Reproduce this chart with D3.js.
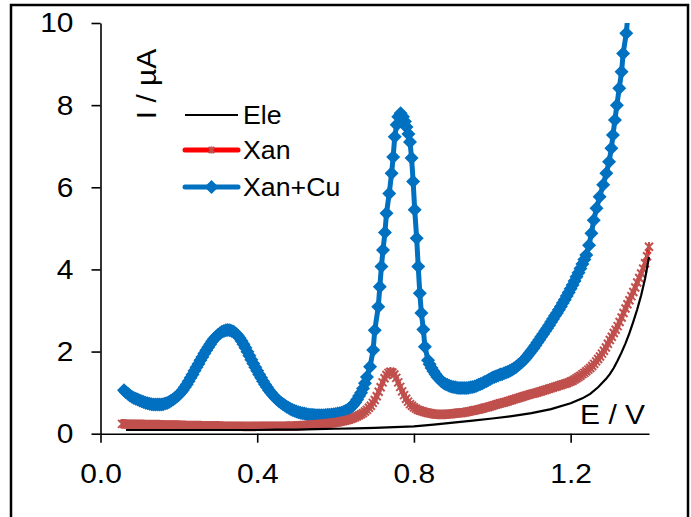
<!DOCTYPE html>
<html><head><meta charset="utf-8">
<script src="https://cdn.jsdelivr.net/npm/d3@7"></script>
<style>html,body{margin:0;padding:0;background:#fff;}</style>
</head><body>
<script>
// ---- data : [E (V), I (µA)] ----
const xTicks = [0.0, 0.4, 0.8, 1.2];
const yTicks = [0, 2, 4, 6, 8, 10];
const seriesNames = ["Ele", "Xan", "Xan+Cu"];

const eleData = [[0.065,0.09],[0.10,0.09],[0.15,0.09],[0.20,0.09],[0.25,0.09],[0.30,0.09],[0.35,0.09],[0.40,0.09],[0.45,0.10],[0.50,0.10],
[0.55,0.11],[0.60,0.12],[0.65,0.13],[0.70,0.14],[0.75,0.16],[0.80,0.18],[0.85,0.22],[0.90,0.27],[0.95,0.32],[1.00,0.37],
[1.05,0.43],[1.10,0.50],[1.15,0.60],[1.20,0.74],[1.23,0.86],[1.25,0.97],[1.27,1.13],[1.29,1.33],[1.30,1.45],[1.31,1.60],
[1.32,1.78],[1.33,1.98],[1.34,2.20],[1.35,2.45],[1.36,2.73],[1.37,3.03],[1.38,3.37],[1.39,3.78],[1.40,4.30]];

const xanData = [[0.055,0.24],[0.06,0.24],[0.065,0.235],[0.07,0.23],[0.075,0.23],[0.08,0.23],[0.085,0.23],[0.09,0.23],[0.095,0.23],[0.10,0.23],
[0.105,0.228],[0.11,0.226],[0.115,0.224],[0.12,0.222],[0.125,0.22],[0.13,0.22],[0.135,0.22],[0.14,0.22],[0.145,0.22],[0.15,0.22],
[0.155,0.217],[0.16,0.214],[0.165,0.212],[0.17,0.21],[0.175,0.21],[0.18,0.21],[0.185,0.21],[0.19,0.21],[0.195,0.21],[0.20,0.21],
[0.205,0.207],[0.21,0.204],[0.215,0.202],[0.22,0.20],[0.225,0.20],[0.23,0.20],[0.235,0.20],[0.24,0.20],[0.245,0.20],[0.25,0.20],
[0.255,0.197],[0.26,0.195],[0.265,0.193],[0.27,0.19],[0.275,0.19],[0.28,0.19],[0.285,0.19],[0.29,0.19],[0.295,0.19],[0.30,0.19],
[0.305,0.187],[0.31,0.185],[0.315,0.183],[0.32,0.18],[0.325,0.18],[0.33,0.18],[0.335,0.18],[0.34,0.18],[0.345,0.18],[0.35,0.18],
[0.355,0.18],[0.36,0.18],[0.365,0.178],[0.37,0.178],[0.375,0.178],[0.38,0.178],[0.385,0.178],[0.39,0.178],[0.395,0.178],[0.40,0.18],
[0.405,0.18],[0.41,0.18],[0.415,0.18],[0.42,0.18],[0.425,0.18],[0.43,0.18],[0.435,0.18],[0.44,0.18],[0.445,0.18],[0.45,0.18],
[0.455,0.18],[0.46,0.181],[0.465,0.182],[0.47,0.183],[0.475,0.184],[0.48,0.185],[0.485,0.187],[0.49,0.189],[0.495,0.19],[0.50,0.19],
[0.505,0.195],[0.51,0.20],[0.515,0.20],[0.52,0.20],[0.525,0.205],[0.53,0.21],[0.535,0.21],[0.54,0.21],[0.545,0.215],[0.55,0.22],
[0.555,0.225],[0.56,0.23],[0.565,0.235],[0.57,0.24],[0.575,0.245],[0.58,0.25],[0.585,0.255],[0.59,0.26],[0.595,0.265],[0.60,0.27],
[0.605,0.28],[0.61,0.29],[0.615,0.30],[0.62,0.31],[0.625,0.32],[0.63,0.33],[0.635,0.345],[0.64,0.36],[0.645,0.38],[0.65,0.40],
[0.655,0.425],[0.66,0.45],[0.665,0.475],[0.67,0.50],[0.675,0.54],[0.68,0.58],[0.685,0.63],[0.69,0.68],[0.695,0.75],[0.70,0.82],
[0.705,0.91],[0.71,1.02],[0.715,1.13],[0.72,1.25],[0.725,1.35],[0.73,1.43],[0.735,1.48],[0.74,1.51],[0.745,1.49],[0.75,1.44],
[0.755,1.36],[0.76,1.25],[0.765,1.14],[0.77,1.03],[0.775,0.94],[0.78,0.85],[0.785,0.78],[0.79,0.72],[0.795,0.68],[0.80,0.64],
[0.805,0.61],[0.81,0.58],[0.815,0.565],[0.82,0.55],[0.825,0.535],[0.83,0.52],[0.835,0.51],[0.84,0.50],[0.845,0.49],[0.85,0.48],
[0.855,0.475],[0.86,0.47],[0.865,0.47],[0.87,0.47],[0.875,0.47],[0.88,0.47],[0.885,0.475],[0.89,0.48],[0.895,0.485],[0.90,0.49],
[0.905,0.495],[0.91,0.50],[0.915,0.505],[0.92,0.51],[0.925,0.515],[0.93,0.52],[0.935,0.53],[0.94,0.54],[0.945,0.55],[0.95,0.56],
[0.955,0.57],[0.96,0.58],[0.965,0.59],[0.97,0.60],[0.975,0.615],[0.98,0.63],[0.985,0.64],[0.99,0.65],[0.995,0.665],[1.00,0.68],
[1.005,0.695],[1.01,0.71],[1.015,0.725],[1.02,0.74],[1.025,0.75],[1.03,0.76],[1.035,0.775],[1.04,0.79],[1.045,0.805],[1.05,0.82],
[1.055,0.835],[1.06,0.85],[1.065,0.865],[1.07,0.88],[1.075,0.895],[1.08,0.91],[1.085,0.925],[1.09,0.94],[1.095,0.955],[1.10,0.97],
[1.105,0.98],[1.11,0.99],[1.115,1.005],[1.12,1.02],[1.125,1.035],[1.13,1.05],[1.135,1.065],[1.14,1.08],[1.145,1.095],[1.15,1.11],
[1.155,1.125],[1.16,1.14],[1.165,1.155],[1.17,1.17],[1.175,1.185],[1.18,1.20],[1.185,1.215],[1.19,1.23],[1.195,1.25],[1.20,1.27],
[1.205,1.29],[1.21,1.32],[1.215,1.35],[1.22,1.38],[1.225,1.41],[1.23,1.45],[1.235,1.48],[1.24,1.52],[1.245,1.56],[1.25,1.60],
[1.255,1.65],[1.26,1.70],[1.265,1.76],[1.27,1.82],[1.275,1.88],[1.28,1.95],[1.285,2.02],[1.29,2.10],[1.295,2.19],[1.30,2.28],
[1.305,2.36],[1.31,2.45],[1.315,2.53],[1.32,2.62],[1.325,2.72],[1.33,2.83],[1.335,2.94],[1.34,3.05],[1.345,3.15],[1.35,3.25],
[1.355,3.35],[1.36,3.45],[1.365,3.56],[1.37,3.68],[1.375,3.79],[1.38,3.90],[1.385,4.02],[1.39,4.15],[1.395,4.32],[1.40,4.55]];

const cuData = [[0.06,1.06],[0.065,1.01],[0.07,0.97],[0.075,0.93],[0.08,0.90],[0.085,0.87],[0.09,0.85],[0.095,0.83],[0.10,0.81],[0.105,0.79],
[0.11,0.77],[0.115,0.755],[0.12,0.74],[0.125,0.73],[0.13,0.72],[0.135,0.714],[0.14,0.71],[0.145,0.708],[0.15,0.71],[0.155,0.714],
[0.16,0.72],[0.165,0.733],[0.17,0.75],[0.175,0.772],[0.18,0.80],[0.185,0.833],[0.19,0.87],[0.195,0.908],[0.20,0.95],[0.205,1.002],
[0.21,1.06],[0.215,1.128],[0.22,1.20],[0.225,1.278],[0.23,1.36],[0.235,1.444],[0.24,1.53],[0.245,1.615],[0.25,1.70],[0.255,1.786],
[0.26,1.87],[0.265,1.952],[0.27,2.03],[0.275,2.107],[0.28,2.18],[0.285,2.248],[0.29,2.31],[0.295,2.363],[0.30,2.41],[0.305,2.448],
[0.31,2.48],[0.315,2.503],[0.32,2.52],[0.325,2.526],[0.33,2.52],[0.335,2.503],[0.34,2.48],[0.345,2.438],[0.35,2.39],[0.355,2.328],
[0.36,2.26],[0.365,2.178],[0.37,2.09],[0.375,1.997],[0.38,1.90],[0.385,1.803],[0.39,1.71],[0.395,1.618],[0.40,1.53],[0.405,1.443],
[0.41,1.36],[0.415,1.278],[0.42,1.20],[0.425,1.128],[0.43,1.06],[0.435,0.998],[0.44,0.94],[0.445,0.888],[0.45,0.84],[0.455,0.798],
[0.46,0.76],[0.465,0.723],[0.47,0.69],[0.475,0.658],[0.48,0.63],[0.485,0.604],[0.49,0.58],[0.495,0.558],[0.50,0.54],[0.505,0.524],
[0.51,0.51],[0.515,0.498],[0.52,0.49],[0.525,0.479],[0.53,0.47],[0.535,0.464],[0.54,0.46],[0.545,0.454],[0.55,0.45],[0.555,0.449],
[0.56,0.45],[0.565,0.449],[0.57,0.45],[0.575,0.454],[0.58,0.46],[0.585,0.464],[0.59,0.47],[0.595,0.474],[0.60,0.48],[0.605,0.489],
[0.61,0.50],[0.615,0.513],[0.62,0.53],[0.625,0.552],[0.63,0.58],[0.635,0.612],[0.64,0.65],[0.645,0.70],[0.65,0.76],[0.655,0.833],
[0.66,0.92],[0.665,1.00],[0.67,1.10],[0.675,1.23],[0.68,1.38],[0.688,1.63],[0.696,2.04],[0.700,2.52],[0.709,3.09],[0.713,3.58],
[0.717,4.07],[0.721,4.47],[0.726,4.90],[0.730,5.37],[0.737,5.85],[0.743,6.34],[0.747,6.74],[0.751,7.23],[0.756,7.52],[0.760,7.72],
[0.766,7.80],[0.772,7.72],[0.777,7.60],[0.781,7.47],[0.786,7.30],[0.790,7.10],[0.794,6.71],[0.798,6.14],[0.802,5.45],[0.807,4.76],
[0.811,4.07],[0.815,3.42],[0.819,2.94],[0.824,2.54],[0.828,2.12],[0.836,1.79],[0.84,1.69],[0.845,1.60],[0.85,1.52],[0.855,1.45],
[0.86,1.38],[0.865,1.33],[0.87,1.28],[0.875,1.24],[0.88,1.21],[0.885,1.19],[0.89,1.17],[0.895,1.15],[0.90,1.14],[0.905,1.13],
[0.91,1.12],[0.915,1.11],[0.92,1.11],[0.925,1.11],[0.93,1.11],[0.935,1.11],[0.94,1.12],[0.945,1.13],[0.95,1.14],[0.955,1.15],
[0.96,1.17],[0.965,1.19],[0.97,1.21],[0.975,1.23],[0.98,1.26],[0.985,1.28],[0.99,1.31],[0.995,1.33],[1.00,1.36],[1.005,1.38],
[1.01,1.40],[1.015,1.42],[1.02,1.44],[1.025,1.45],[1.03,1.47],[1.035,1.49],[1.04,1.51],[1.045,1.53],[1.05,1.56],[1.055,1.59],
[1.06,1.62],[1.065,1.66],[1.07,1.70],[1.075,1.74],[1.08,1.79],[1.085,1.84],[1.09,1.90],[1.095,1.96],[1.10,2.02],[1.105,2.08],
[1.11,2.15],[1.115,2.22],[1.12,2.29],[1.125,2.36],[1.13,2.43],[1.135,2.50],[1.14,2.57],[1.145,2.64],[1.15,2.72],[1.155,2.79],
[1.16,2.87],[1.165,2.94],[1.17,3.02],[1.175,3.10],[1.18,3.18],[1.185,3.26],[1.19,3.35],[1.195,3.44],[1.20,3.53],[1.205,3.62],
[1.21,3.72],[1.215,3.82],[1.22,3.92],[1.225,4.02],[1.23,4.13],[1.235,4.24],[1.24,4.35],[1.247,4.59],[1.253,4.88],[1.259,5.20],
[1.266,5.49],[1.274,5.77],[1.283,6.06],[1.291,6.34],[1.298,6.62],[1.304,6.95],[1.308,7.27],[1.313,7.64],[1.318,8.00],[1.324,8.41],
[1.330,8.81],[1.334,9.26],[1.342,9.75],[1.348,10.40]];

// ---- layout ----
const W = 691, H = 517;
const FONT = "'Liberation Sans', Arial, Helvetica, sans-serif";
const SX = 1.07; // slight horizontal stretch of the reference text
const svg = d3.select("body").append("svg").attr("width", W).attr("height", H)
  .style("display","block").style("background","#fff");

svg.append("rect").attr("x",11).attr("y",5).attr("width",677).attr("height",530)
  .attr("fill","none").attr("stroke","#000").attr("stroke-width",2.5);

const x = d3.scaleLinear().domain([0, 1.4]).range([100.5, 649]);
const y = d3.scaleLinear().domain([0, 10]).range([433.7, 23]);

svg.append("clipPath").attr("id","clip").append("rect")
  .attr("x", 90).attr("y", 23).attr("width", 600).attr("height", 430);

const plot = svg.append("g").attr("clip-path","url(#clip)");
const line = d3.line().x(d => x(d[0])).y(d => y(d[1]));
const diamond = (cx, cy, r) => `M${cx},${cy-r}L${cx+r},${cy}L${cx},${cy+r}L${cx-r},${cy}Z`;
const star = (cx, cy, r) => `M${cx-r},${cy-r}L${cx+r},${cy+r}M${cx-r},${cy+r}L${cx+r},${cy-r}M${cx},${cy-r*1.2}L${cx},${cy+r*1.2}`;

// Xan+Cu (blue, diamonds)
plot.append("path").datum(cuData).attr("d", line).attr("fill","none")
  .attr("stroke","#0070c0").attr("stroke-width",5).attr("stroke-linejoin","round");
plot.append("g").selectAll("path").data(cuData).join("path")
  .attr("d", d => diamond(x(d[0]), y(d[1]), 7)).attr("fill","#0070c0");

// Xan (red line, star markers)
plot.append("path").datum(xanData).attr("d", line).attr("fill","none")
  .attr("stroke","#ff0000").attr("stroke-width",4).attr("stroke-linejoin","round");
plot.append("g").selectAll("path").data(xanData).join("path")
  .attr("d", d => star(x(d[0]), y(d[1]), 4)).attr("fill","none")
  .attr("stroke","#c0504d").attr("stroke-width",2);

// Ele (black)
plot.append("path").datum(eleData).attr("d", line).attr("fill","none")
  .attr("stroke","#000").attr("stroke-width",2.2);

// ---- axes ----
const gx = svg.append("g").attr("transform",`translate(0,${y(0)})`)
  .call(d3.axisBottom(x).tickValues(xTicks).tickFormat(d3.format(".1f")).tickSize(9).tickSizeOuter(0).tickPadding(20));
const gy = svg.append("g").attr("transform",`translate(${x(0)},0)`)
  .call(d3.axisLeft(y).tickValues(yTicks).tickFormat(d3.format("d")).tickSize(9).tickSizeOuter(0).tickPadding(18));
[gx, gy].forEach(g => {
  g.select(".domain").attr("stroke","#000").attr("stroke-width",1.6);
  g.selectAll(".tick line").attr("stroke","#000").attr("stroke-width",1.6);
  g.selectAll(".tick text").attr("fill","#000").style("font-family",FONT).style("font-size","28px");
});
gy.selectAll(".tick text").attr("x", -27 / SX).attr("transform", `scale(${SX},1)`);
gx.selectAll(".tick text").attr("transform", `scale(${SX},1)`);

// axis titles
svg.append("text").attr("transform", `translate(156,84) rotate(-90) scale(${SX},1)`)
  .attr("text-anchor","middle").style("font-family",FONT).style("font-size","28px").text("I / µA");
svg.append("text").attr("transform", `translate(645,424) scale(${SX},1)`)
  .attr("text-anchor","end").style("font-family",FONT).style("font-size","28px").text("E / V");

// ---- legend ----
const legY = [115, 150, 187];
const leg = svg.append("g");
leg.append("line").attr("x1",185).attr("x2",238).attr("y1",legY[0]).attr("y2",legY[0]).attr("stroke","#000").attr("stroke-width",2.2);
leg.append("line").attr("x1",185).attr("x2",238).attr("y1",legY[1]).attr("y2",legY[1]).attr("stroke","#ff0000").attr("stroke-width",5).attr("stroke-linecap","round");
leg.append("path").attr("d", star(211.5, legY[1], 3)).attr("stroke","#c0504d").attr("stroke-width",2).attr("fill","none");
leg.append("line").attr("x1",185).attr("x2",238).attr("y1",legY[2]).attr("y2",legY[2]).attr("stroke","#0070c0").attr("stroke-width",5).attr("stroke-linecap","round");
leg.append("path").attr("d", diamond(211.5, legY[2], 7)).attr("fill","#0070c0");
seriesNames.forEach((n, i) => {
  leg.append("text").attr("transform", `translate(243,${legY[i] + 9}) scale(${SX},1)`)
    .style("font-family",FONT).style("font-size","25px").attr("fill","#000").text(n);
});
</script>
</body></html>
